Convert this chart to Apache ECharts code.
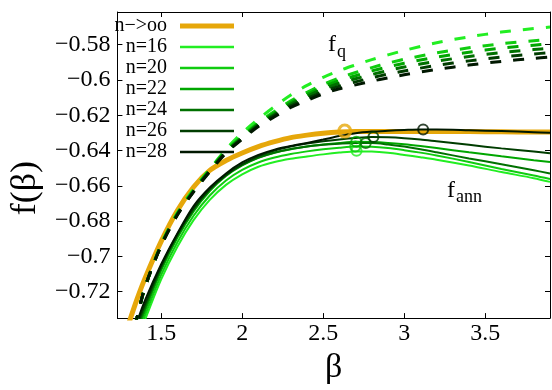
<!DOCTYPE html>
<html>
<head>
<meta charset="utf-8">
<script src="https://cdn.jsdelivr.net/npm/echarts@6/dist/echarts.min.js"></script>
<style>
  html, body { margin: 0; padding: 0; background: #fff; }
  #chart { width: 552px; height: 390px; }
</style>
</head>
<body>
<div id="chart"></div>
<script>
// beta grid for the n->oo curve
const betaInf = [1.3, 1.35, 1.4, 1.5, 1.6, 1.7, 1.8, 1.9, 2.0, 2.1, 2.2, 2.3, 2.4, 2.5, 2.6, 2.7, 2.8, 2.9, 3.0, 3.1, 3.2, 3.4, 3.6, 3.8, 3.9]
const fInf = [-0.7380, -0.7245, -0.7125, -0.6915, -0.6740, -0.6607, -0.6513, -0.6457, -0.6414, -0.6378, -0.6350, -0.6327, -0.6313, -0.6302, -0.6295, -0.6292, -0.6292, -0.6292, -0.6292, -0.6292, -0.6293, -0.6293, -0.6294, -0.6295, -0.6295]

// f_ann, solid curves
const betaAnn = [1.35, 1.4, 1.5, 1.6, 1.7, 1.8, 1.9, 2.0, 2.1, 2.2, 2.3, 2.4, 2.5, 2.6, 2.7, 2.8, 2.9, 3.0, 3.1, 3.2, 3.4, 3.6, 3.8, 3.9]
const fAnn16 = [-0.7475, -0.7360, -0.7130, -0.6945, -0.6795, -0.6680, -0.6595, -0.6535, -0.6492, -0.6465, -0.6447, -0.6434, -0.6422, -0.6412, -0.6405, -0.6406, -0.6413, -0.6425, -0.6438, -0.6452, -0.6485, -0.6522, -0.6557, -0.6578]
const fAnn20 = [-0.7450, -0.7335, -0.7105, -0.6920, -0.6770, -0.6655, -0.6570, -0.6510, -0.6468, -0.6440, -0.6420, -0.6405, -0.6393, -0.6384, -0.6378, -0.6379, -0.6386, -0.6398, -0.6412, -0.6428, -0.6465, -0.6505, -0.6542, -0.6562]
const fAnn22 = [-0.7425, -0.7310, -0.7080, -0.6895, -0.6745, -0.6630, -0.6545, -0.6485, -0.6442, -0.6413, -0.6393, -0.6378, -0.6366, -0.6357, -0.6351, -0.6352, -0.6357, -0.6365, -0.6375, -0.6386, -0.6410, -0.6433, -0.6455, -0.6465]
const fAnn24 = [-0.7405, -0.7290, -0.7065, -0.6882, -0.6735, -0.6622, -0.6540, -0.6482, -0.6440, -0.6411, -0.6391, -0.6377, -0.6368, -0.6362, -0.6358, -0.6358, -0.6366, -0.6378, -0.6393, -0.6410, -0.6445, -0.6478, -0.6512, -0.6530]
const fAnn26 = [-0.7390, -0.7272, -0.7055, -0.6875, -0.6728, -0.6618, -0.6538, -0.6478, -0.6432, -0.6400, -0.6377, -0.6360, -0.6347, -0.6337, -0.6329, -0.6324, -0.6325, -0.6330, -0.6338, -0.6348, -0.6368, -0.6388, -0.6406, -0.6416]
const fAnn28 = [-0.7375, -0.7250, -0.7045, -0.6870, -0.6715, -0.6610, -0.6530, -0.6468, -0.6425, -0.6395, -0.6375, -0.6357, -0.6338, -0.6318, -0.6302, -0.6293, -0.6288, -0.6284, -0.6281, -0.6281, -0.6285, -0.6290, -0.6296, -0.6300]

// f_q, dashed curves
const betaQ = [1.3, 1.35, 1.4, 1.5, 1.6, 1.7, 1.8, 1.9, 2.0, 2.1, 2.2, 2.3, 2.4, 2.5, 2.6, 2.7, 2.8, 2.9, 3.0, 3.2, 3.4, 3.6, 3.8, 3.9]
const fQ16 = [-0.752, -0.735, -0.718, -0.693, -0.6752, -0.6618, -0.6505, -0.6393, -0.6300, -0.6222, -0.6151, -0.6086, -0.6031, -0.5985, -0.5947, -0.5915, -0.5885, -0.5858, -0.5833, -0.5789, -0.5756, -0.5729, -0.5709, -0.5700]
const fQ20 = [-0.752, -0.735, -0.7175, -0.6935, -0.6758, -0.6625, -0.6508, -0.6400, -0.6318, -0.6240, -0.6178, -0.6118, -0.6070, -0.6025, -0.5988, -0.5958, -0.5930, -0.5905, -0.5883, -0.5847, -0.5818, -0.5795, -0.5778, -0.5770]
const fQ22 = [-0.752, -0.735, -0.7175, -0.6936, -0.6760, -0.6628, -0.6511, -0.6404, -0.6323, -0.6246, -0.6186, -0.6128, -0.6082, -0.6039, -0.6004, -0.5976, -0.5949, -0.5926, -0.5905, -0.5871, -0.5843, -0.5820, -0.5803, -0.5795]
const fQ24 = [-0.752, -0.735, -0.7175, -0.6938, -0.6762, -0.6630, -0.6514, -0.6407, -0.6327, -0.6252, -0.6194, -0.6137, -0.6093, -0.6052, -0.6019, -0.5993, -0.5969, -0.5947, -0.5927, -0.5894, -0.5867, -0.5845, -0.5828, -0.5820]
const fQ26 = [-0.752, -0.735, -0.7175, -0.6939, -0.6764, -0.6633, -0.6517, -0.6411, -0.6332, -0.6258, -0.6201, -0.6147, -0.6105, -0.6066, -0.6035, -0.6011, -0.5988, -0.5967, -0.5949, -0.5918, -0.5892, -0.5870, -0.5853, -0.5845]
const fQ28 = [-0.752, -0.735, -0.7175, -0.6940, -0.6766, -0.6635, -0.6520, -0.6414, -0.6336, -0.6264, -0.6209, -0.6156, -0.6116, -0.6079, -0.6050, -0.6028, -0.6007, -0.5988, -0.5971, -0.5941, -0.5916, -0.5895, -0.5878, -0.5870]

// maxima of f_ann (circles), order: n->oo, 16, 20, 22, 24, 26, 28
const peakBeta = [2.633, 2.706, 2.698, 2.704, 2.763, 2.810, 3.117]
const peakF = [-0.6290, -0.6402, -0.6378, -0.6351, -0.6357, -0.6324, -0.6281]

const names = ['n−>oo', 'n=16', 'n=20', 'n=22', 'n=24', 'n=26', 'n=28']
const colors = ['#e6a70a', '#22ee22', '#10cc10', '#00a600', '#007000', '#003d00', '#001800']

const font = 'Liberation Serif'
const chart = echarts.init(document.getElementById('chart'))

const annSets = [fAnn16, fAnn20, fAnn22, fAnn24, fAnn26, fAnn28]
const qSets = [fQ16, fQ20, fQ22, fQ24, fQ26, fQ28]

const series = []
series.push({
  name: names[0],
  type: 'line',
  symbol: 'none',
  smooth: 0.3,
  lineStyle: { color: colors[0], width: 5 },
  data: betaInf.map((b, i) => [b, fInf[i]])
})
annSets.forEach((arr, k) => {
  series.push({
    name: names[k + 1],
    type: 'line',
    symbol: 'none',
    smooth: 0.3,
    lineStyle: { color: colors[k + 1], width: 2 },
    data: betaAnn.map((b, i) => [b, arr[i]])
  })
})
qSets.forEach((arr, k) => {
  series.push({
    name: 'fq ' + names[k + 1],
    type: 'line',
    symbol: 'none',
    smooth: 0.3,
    lineStyle: { color: colors[k + 1], width: 3, type: [11, 12] },
    data: betaQ.map((b, i) => [b, arr[i]])
  })
})
series.push({
  name: 'max',
  type: 'scatter',
  symbol: 'circle',
  z: 5,
  data: peakBeta.map((b, i) => ({
    value: [b, peakF[i]],
    symbolSize: i === 0 ? 12 : 10,
    itemStyle: { color: 'rgba(0,0,0,0)', borderColor: colors[i], borderWidth: i === 0 ? 3 : 2 }
  }))
})

// key box in the upper left, text right-aligned, sample line to its right
const keyItems = []
names.forEach((nm, i) => {
  const y = 26 + 21 * i
  keyItems.push({
    type: 'text', x: 167, y: y, z: 10,
    style: { text: nm, font: '20px "Liberation Serif"', fill: '#000', textAlign: 'right', textVerticalAlign: 'middle', align: 'right', verticalAlign: 'middle' }
  })
  keyItems.push({
    type: 'line', z: 10,
    shape: { x1: 180, y1: y, x2: 234, y2: y },
    style: { stroke: colors[i], lineWidth: i === 0 ? 5 : 2.5 }
  })
})

const axisCommon = {
  type: 'value',
  splitLine: { show: false },
  axisLine: { onZero: false, lineStyle: { color: '#000', width: 1 } },
  axisTick: { inside: true, length: 5, lineStyle: { color: '#000' } }
}

chart.setOption({
  animation: false,
  backgroundColor: '#fff',
  grid: { left: 98, right: 2, top: 12, bottom: 59 },
  xAxis: [
    Object.assign({}, axisCommon, {
      min: 1.23, max: 3.9, position: 'bottom',
      axisLabel: { fontFamily: font, fontSize: 24, color: '#000', margin: 4, showMinLabel: false, showMaxLabel: false },
      name: 'β', nameLocation: 'middle', nameGap: 22,
      nameTextStyle: { fontFamily: font, fontSize: 34, color: '#000' }
    }),
    Object.assign({}, axisCommon, {
      min: 1.23, max: 3.9, position: 'top',
      axisLabel: { show: false }
    })
  ],
  yAxis: [
    Object.assign({}, axisCommon, {
      min: -0.735, max: -0.5615, splitNumber: 8, position: 'left',
      axisLabel: {
        fontFamily: font, fontSize: 24, color: '#000', margin: 7,
        showMinLabel: false, showMaxLabel: false,
        formatter: v => String(v).replace('-', '−')
      },
      name: 'f(β)', nameLocation: 'middle', nameGap: 66, nameRotate: 90,
      nameTextStyle: { fontFamily: font, fontSize: 36, color: '#000', padding: [0, 46, 0, 0] }
    }),
    Object.assign({}, axisCommon, {
      min: -0.735, max: -0.5615, splitNumber: 8, position: 'right',
      axisLabel: { show: false }
    })
  ],
  graphic: keyItems.concat([
    { type: 'text', left: 328, top: 33, style: { text: 'f', font: '24px "Liberation Serif"', fill: '#000' } },
    { type: 'text', left: 337, top: 43, style: { text: 'q', font: '18px "Liberation Serif"', fill: '#000' } },
    { type: 'text', left: 447, top: 179, style: { text: 'f', font: '24px "Liberation Serif"', fill: '#000' } },
    { type: 'text', left: 456, top: 188, style: { text: 'ann', font: '18px "Liberation Serif"', fill: '#000' } }
  ]),
  series: series
})
</script>
</body>
</html>
